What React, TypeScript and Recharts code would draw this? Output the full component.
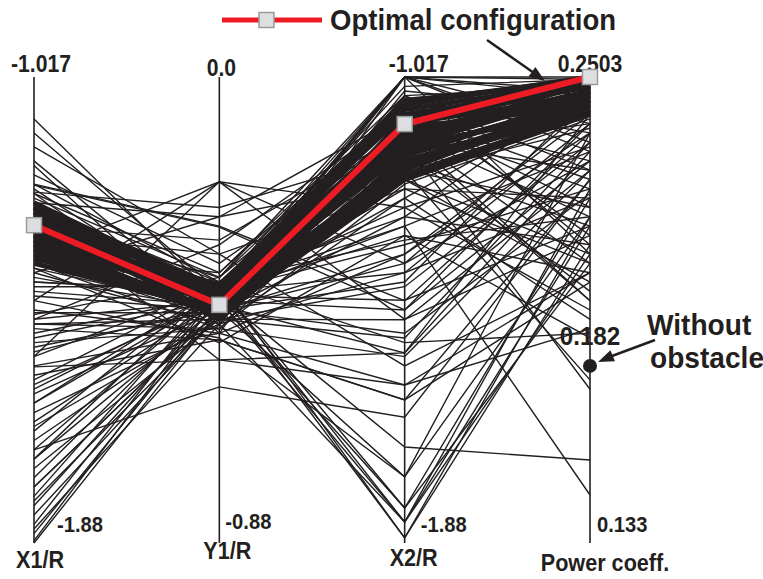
import React from 'react';
import { LineChart, Line, XAxis, YAxis, ReferenceLine, ReferenceDot } from 'recharts';

// Parallel-coordinates axes
const axisNames = ['X1/R', 'Y1/R', 'X2/R', 'Power coeff.'];
const axisMaxLabels = ['-1.017', '0.0', '-1.017', '0.2503'];
const axisMinLabels = ['-1.88', '-0.88', '-1.88', '0.133'];

// Values are positions within each axis range, in % (0 = axis minimum, 100 = axis maximum)
const optimalConfig = [68.2, 51.1, 89.9, 100];
const withoutObstacle = 38;
const withoutObstacleLabel = '0.182';

// dense bundle of near-optimal designs
const bundleLines: number[][] = [
  [72, 53, 93, 99],
  [71, 50, 91, 98],
  [70, 55, 88, 97],
  [69, 52, 86, 99],
  [68, 49, 90, 96],
  [67, 54, 84, 95],
  [66, 51, 87, 97],
  [65, 48.5, 82, 94],
  [64, 53, 85, 93],
  [63, 50, 80, 95],
  [70, 48, 83, 96],
  [66, 55.5, 92, 98],
  [68, 52, 81, 93],
  [64, 55, 89, 94],
  [62, 49, 79, 92.5],
  [71, 51, 85, 97],
  [73, 54, 94, 100],
  [60, 50, 81, 93],
  [61, 52, 84, 95],
  [69, 55, 95, 99],
  [65, 49, 78, 92],
  [67, 53, 90, 98],
  [63, 54, 87, 96],
  [72, 50, 86, 97],
];

// other evaluated designs
const scatterLines: number[][] = [
  [91, 52, 100, 97],
  [88, 54, 72, 85],
  [82, 49, 96, 80],
  [77, 56, 65, 70],
  [75, 47, 58, 90],
  [81, 45, 100, 100],
  [76, 50, 45, 75],
  [79, 60, 88, 60],
  [75.3, 72, 84, 94],
  [76.8, 67.8, 50, 82],
  [52, 77.5, 60, 82],
  [40, 77.5, 72, 50],
  [62, 77.5, 48, 66],
  [73, 70, 92, 78],
  [77, 68, 52, 88],
  [58, 70, 78, 62],
  [48, 64, 92, 72],
  [66, 62, 38, 58],
  [85, 62, 76, 74],
  [68, 65, 88, 52],
  [60, 52, 95, 88],
  [58, 47, 74, 96],
  [55, 55, 68, 84],
  [53, 50, 82, 68],
  [50, 45, 62, 92],
  [49, 57, 90, 76],
  [47, 48, 55, 86],
  [45, 53, 100, 62],
  [43, 46, 40, 80],
  [41, 51, 78, 56],
  [52, 44, 14.2, 70],
  [59, 43, 66, 44],
  [61, 49, 86, 52],
  [56, 54, 58, 74],
  [62, 58, 94, 66],
  [49.4, 49.4, 70, 64],
  [47, 46, 84, 90],
  [37.8, 39.3, 33.9, 58],
  [46, 43.6, 30.7, 78],
  [35, 55, 88, 70],
  [32, 50, 60, 94],
  [30, 53, 76, 60],
  [28, 47, 92, 82],
  [26, 52, 50, 90],
  [24, 56, 70, 98],
  [22, 49, 84, 54],
  [20, 54, 64, 76],
  [18, 51, 96, 64],
  [16, 48, 44, 86],
  [14, 53, 80, 72],
  [12, 50, 56, 96],
  [10, 55, 100, 84],
  [8, 52, 74, 48],
  [6, 49, 90, 92],
  [4, 54, 66, 58],
  [2, 51, 86, 80],
  [0.5, 53, 78, 94],
  [0, 50, 62, 88],
  [3, 47, 4.5, 68],
  [38, 45, 33.9, 46],
  [56, 54, 1.1, 70],
  [18, 56, 1.1, 64],
  [44, 52, 4.5, 62],
  [40, 55, 4.5, 76],
  [30, 55, 7.5, 74],
  [64, 52, 7.5, 60],
  [12, 50, 14.2, 88],
  [65, 53, 20.6, 17.8],
  [20, 33.5, 27, 78],
  [36, 43.6, 30.7, 56],
  [70, 39.3, 40.8, 92],
  [54, 51, 40.8, 84],
  [72, 56, 43, 45],
  [25, 48, 47.9, 80],
  [33, 53, 52.1, 68],
  [60, 53, 68, 10.3],
  [48, 52, 86, 33],
  [42, 50, 80, 35],
  [69, 57, 100, 99.5],
  [73, 53, 100, 96],
  [57, 50, 100, 90],
  [34, 52, 100, 86],
  [63, 55, 98, 99.5],
  [9, 49, 97, 93],
  [74, 57, 95, 100],
  [60, 46, 77, 91],
  [73, 55, 90, 95],
  [61, 48, 79, 89],
  [59, 50, 83, 93],
  [75, 58, 96, 98],
];

const INK = '#231f20';
const RED = '#ed1c24';
const FONT = '"Liberation Sans", Arial, Helvetica, sans-serif';

// label offsets relative to each axis line (layout only)
const labelLayout = [
  { topDx: 7, topDy: -5, minDx: 23, minDy: -11, nameDx: 6, nameDy: 25 },
  { topDx: 2, topDy: -1, minDx: 6, minDy: -14, nameDx: 8, nameDy: 16 },
  { topDx: 14, topDy: -5, minDx: 16, minDy: -11, nameDx: 9, nameDy: 23 },
  { topDx: 0, topDy: -5, minDx: 7, minDy: -11, nameDx: 15, nameDy: 28 },
];

// condensed bold text helper
const CT = (p: { x: number; y: number; size: number; sx: number; anchor?: string; children: React.ReactNode }) => (
  <text
    transform={`translate(${p.x} ${p.y}) scale(${p.sx} 1)`}
    fontSize={p.size}
    textAnchor={(p.anchor as any) || 'start'}
    fontFamily={FONT}
    fontWeight="bold"
    fill={INK}
  >
    {p.children}
  </text>
);

const data = axisNames.map((name, i) => {
  const row: Record<string, number | string> = { i, name };
  scatterLines.forEach((l, k) => {
    row['s' + k] = l[i];
  });
  bundleLines.forEach((l, k) => {
    row['b' + k] = l[i];
  });
  row.opt = optimalConfig[i];
  return row;
});

const AxisLabel = (props: any) => {
  const { viewBox, idx } = props;
  if (!viewBox) return null;
  const x = viewBox.x;
  const top = viewBox.y;
  const bottom = viewBox.y + (viewBox.height || 466);
  const L = labelLayout[idx];
  return (
    <g>
      <CT x={x + L.topDx} y={top + L.topDy} size={23.5} sx={0.9} anchor="middle">
        {axisMaxLabels[idx]}
      </CT>
      <CT x={x + L.minDx} y={bottom + L.minDy} size={21.5} sx={0.94}>
        {axisMinLabels[idx]}
      </CT>
      <CT x={x + L.nameDx} y={bottom + L.nameDy} size={23} sx={0.94} anchor="middle">
        {axisNames[idx]}
      </CT>
    </g>
  );
};

const SquareDot = (props: any) => {
  const { cx, cy, index } = props;
  if (cx == null || cy == null) return null;
  return (
    <rect
      key={'sq' + index}
      x={cx - 7.5}
      y={cy - 7.5}
      width={15}
      height={15}
      fill="#dcdee1"
      stroke="#9a9b9d"
      strokeWidth={1.5}
    />
  );
};

const DotLabel = (props: any) => {
  const { viewBox } = props;
  if (!viewBox) return null;
  const cx = viewBox.x + (viewBox.width || 0) / 2;
  const cy = viewBox.y + (viewBox.height || 0) / 2;
  return (
    <CT x={cx} y={cy - 21} size={25} sx={0.97} anchor="middle">
      {withoutObstacleLabel}
    </CT>
  );
};

export default function App() {
  return (
    <div
      style={{
        position: 'absolute',
        left: 0,
        top: 0,
        width: 763,
        height: 579,
        background: '#ffffff',
        fontFamily: FONT,
      }}
    >
      <LineChart
        width={763}
        height={579}
        data={data}
        margin={{ top: 77, right: 173, bottom: 36, left: 34 }}
      >
        <XAxis dataKey="i" type="number" domain={[0, 3]} hide />
        <YAxis type="number" domain={[0, 100]} hide />
        {axisNames.map((n, i) => (
          <ReferenceLine
            key={n}
            x={i}
            stroke={INK}
            strokeWidth={1.6}
            ifOverflow="visible"
            label={<AxisLabel idx={i} />}
          />
        ))}
        {scatterLines.map((_, k) => (
          <Line
            key={'s' + k}
            dataKey={'s' + k}
            stroke={INK}
            strokeWidth={1.4}
            dot={false}
            activeDot={false}
            isAnimationActive={false}
          />
        ))}
        {bundleLines.map((_, k) => (
          <Line
            key={'b' + k}
            dataKey={'b' + k}
            stroke={INK}
            strokeWidth={5}
            dot={false}
            activeDot={false}
            isAnimationActive={false}
          />
        ))}
        <Line
          dataKey="opt"
          stroke={RED}
          strokeWidth={6}
          dot={<SquareDot />}
          activeDot={false}
          isAnimationActive={false}
        />
        <ReferenceDot
          x={3}
          y={withoutObstacle}
          r={7}
          fill={INK}
          stroke="none"
          ifOverflow="visible"
          label={<DotLabel />}
        />
      </LineChart>
      <svg
        width={763}
        height={579}
        style={{ position: 'absolute', left: 0, top: 0, pointerEvents: 'none' }}
      >
        <line x1={222} y1={20} x2={322} y2={20} stroke={RED} strokeWidth={5} />
        <rect x={259} y={12.5} width={15} height={15} fill="#dcdee1" stroke="#9a9b9d" strokeWidth={1.5} />
        <CT x={330} y={30} size={29} sx={0.95}>Optimal configuration</CT>
        <line x1={487} y1={40} x2={534} y2={73} stroke={INK} strokeWidth={2.5} />
        <polygon points="545,81 528.4,76.7 535.4,66.9" fill={INK} />
        <CT x={647} y={335} size={29} sx={0.97}>Without</CT>
        <CT x={650} y={368} size={29} sx={0.97}>obstacle</CT>
        <line x1={655} y1={340} x2={612} y2={356} stroke={INK} strokeWidth={2.5} />
        <polygon points="598,362 610.4,350.2 615.0,361.2" fill={INK} />
      </svg>
    </div>
  );
}
